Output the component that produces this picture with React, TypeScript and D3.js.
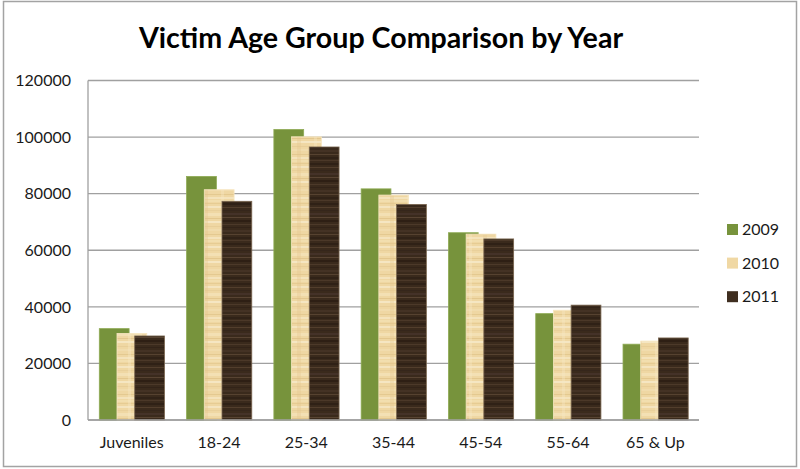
import React from "react";
import * as d3 from "d3";

const categories = ["Juveniles", "18-24", "25-34", "35-44", "45-54", "55-64", "65 & Up"];
const years = ["2009", "2010", "2011"];
const values2009 = [32300, 86100, 102700, 81700, 66200, 37600, 26800];
const values2010 = [30600, 81400, 100100, 79500, 65700, 38800, 27900];
const values2011 = [29700, 77300, 96500, 76200, 64000, 40600, 29000];
const yTicks = [0, 20000, 40000, 60000, 80000, 100000, 120000];

const seriesValues = [values2009, values2010, values2011];
const fills = ["#77933c", "url(#parchment)", "url(#wood)"];
const legendFills = ["#77933c", "#f0d8a4", "#3f2e20"];
const strokes = ["#8fab55", "#f7e6c0", "#7a6650"];

// texture streaks (y offset, height, color)
const parchStreaks: [number, number, string][] = [
  [0, 2, "#f3dfb0"], [3, 1, "#e6cb92"], [6, 2, "#f6e6c2"], [10, 1, "#e9d09a"],
  [13, 3, "#f4e1b6"], [18, 1, "#e3c68c"], [21, 2, "#f7e8c6"], [26, 1, "#e8ce97"],
  [29, 2, "#f2ddae"], [34, 1, "#e4c88e"], [37, 2, "#f6e5bf"],
];
const woodStreaks: [number, number, string][] = [
  [0, 1, "#4f3c2a"], [3, 2, "#2c1f14"], [7, 1, "#574330"], [10, 1, "#33251a"],
  [13, 2, "#46352a"], [17, 1, "#5f4b37"], [20, 2, "#2a1d12"], [24, 1, "#503d2c"],
  [27, 1, "#2f2216"], [30, 2, "#463426"], [34, 1, "#5c4834"], [37, 2, "#2d2015"],
];

const W = 800;
const H = 469;
const plotLeft = 88;
const plotRight = 699;
const plotTop = 80.5;
const plotBottom = 420;

export default function App() {
  const x = d3.scaleBand<string>().domain(categories).range([plotLeft, plotRight]).padding(0);
  const y = d3.scaleLinear().domain([0, 120000]).range([plotBottom, plotTop]);
  const barW = 29.8;
  const offset = d3.scaleLinear().domain([0, 2]).range([11.3, 11.3 + 2 * 17.7]);
  const font = "Lato, 'Open Sans', sans-serif";

  return (
    <svg width={W} height={H} style={{ position: "absolute", left: 0, top: 0 }}>
      <defs>
        <pattern id="parchment" patternUnits="userSpaceOnUse" width={31} height={40}>
          <rect width={31} height={40} fill="#efd7a3" />
          {parchStreaks.map((s, i) => (
            <rect key={i} x={0} y={s[0]} width={31} height={s[1]} fill={s[2]} opacity={0.9} />
          ))}
          <rect x={4} y={0} width={3} height={40} fill="#f6e7c4" opacity={0.35} />
          <rect x={18} y={0} width={4} height={40} fill="#e2c68d" opacity={0.3} />
        </pattern>
        <pattern id="wood" patternUnits="userSpaceOnUse" width={31} height={40}>
          <rect width={31} height={40} fill="#3a2a1c" />
          {woodStreaks.map((s, i) => (
            <rect key={i} x={0} y={s[0]} width={31} height={s[1]} fill={s[2]} opacity={0.8} />
          ))}
        </pattern>
      </defs>
      <rect x={3.5} y={1.5} width={793} height={465} fill="#fff" stroke="#a3a3a3" strokeWidth={1.5} />
      <text x={381} y={48} textAnchor="middle" fontFamily={font} fontWeight={700} fontSize={28.6} fill="#000">
        Victim Age Group Comparison by Year
      </text>
      {yTicks.map((t) => (
        <g key={t}>
          <line x1={plotLeft} x2={plotRight} y1={y(t)} y2={y(t)} stroke="#a0a0a0" strokeWidth={1.3} />
          <text x={71} y={y(t)} dy="0.36em" textAnchor="end" fontFamily={font} fontSize={16} fill="#1a1a1a">
            {t}
          </text>
        </g>
      ))}
      <line x1={plotLeft} x2={plotLeft} y1={plotTop} y2={plotBottom} stroke="#a0a0a0" strokeWidth={1.3} />
      {categories.map((c, ci) => (
        <g key={c}>
          {seriesValues.map((vals, si) => (
            <rect
              key={si}
              x={(x(c) as number) + offset(si)}
              y={y(vals[ci])}
              width={barW}
              height={plotBottom - y(vals[ci])}
              fill={fills[si]}
              stroke={strokes[si]}
              strokeWidth={0.8}
            />
          ))}
          <text
            x={(x(c) as number) + x.bandwidth() / 2}
            y={448}
            textAnchor="middle"
            fontFamily={font}
            fontSize={16}
            fill="#1a1a1a"
          >
            {c}
          </text>
        </g>
      ))}
      <line x1={plotLeft} x2={plotRight} y1={plotBottom} y2={plotBottom} stroke="#a0a0a0" strokeWidth={1.3} />
      {years.map((yr, i) => (
        <g key={yr} transform={`translate(727, ${229.5 + i * 33.6})`}>
          <rect x={0} y={-5.5} width={11} height={11} fill={legendFills[i]} />
          <text x={15} y={0} dy="0.36em" fontFamily={font} fontSize={16} fill="#1a1a1a">
            {yr}
          </text>
        </g>
      ))}
    </svg>
  );
}
